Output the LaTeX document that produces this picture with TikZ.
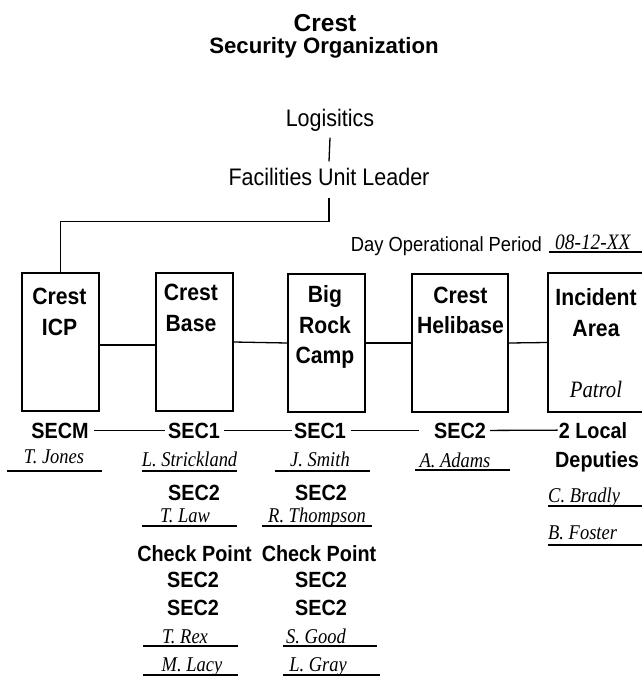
\documentclass[tikz,border=0pt]{standalone}
\usepackage{fontspec}
\newfontfamily\hv[FakeStretch=0.9]{Liberation Sans}
\newfontfamily\hvw{Liberation Sans}
\newfontfamily\nmf[FakeStretch=0.88]{Liberation Serif}
\begin{document}
\begin{tikzpicture}[x=1pt,y=-1pt,
  box/.style={draw, line width=1.6pt, inner sep=0pt},
  ttl/.style={font={\hvw\bfseries\fontsize{24.5}{24.5}\selectfont}, inner sep=0pt, anchor=base},
  sub/.style={font={\hvw\bfseries\fontsize{22.2}{22.2}\selectfont}, inner sep=0pt, anchor=base},
  reg/.style={font={\hv\fontsize{23.9}{23.9}\selectfont}, inner sep=0pt, anchor=base},
  day/.style={font={\hv\fontsize{20.4}{20.4}\selectfont}, inner sep=0pt},
  bx/.style={font={\hv\bfseries\fontsize{23.5}{23.5}\selectfont}, inner sep=0pt, anchor=base},
  lbl/.style={font={\hv\bfseries\fontsize{22}{22}\selectfont}, inner sep=0pt, anchor=base},
  nm/.style={font={\nmf\itshape\fontsize{21}{21}\selectfont}, inner sep=0pt, anchor=base},
  ln/.style={line width=1.3pt},
  ul/.style={line width=1.1pt}]
\useasboundingbox (0,0) rectangle (642,677);

% header
\node[ttl] (t1) at (325,32) {Crest};
\node[sub] (t2) at (324,53) {Security Organization};
\node[reg] (log) at (330,126.5) {Logisitics};
\node[reg] (ful) at (329,185) {Facilities Unit Leader};
\draw[ln] ([yshift=-6]log.south) -- ([yshift=6]ful.north);

\node[day, anchor=base east] (dop) at (542,251) {Day Operational Period};
\node[nm, anchor=base west, font={\nmf\itshape\fontsize{22}{22}\selectfont}] (date) at (555,249) {08-12-XX};
\draw[ul] (549,252) -- (642,252);

% boxes
\node[box, minimum width=77, minimum height=138] (b1) at (60.5,342) {};
\node[box, minimum width=77, minimum height=138] (b2) at (194.5,342) {};
\node[box, minimum width=77, minimum height=138] (b3) at (326.5,343) {};
\node[box, minimum width=96, minimum height=138] (b4) at (460,343) {};
\node[box, minimum width=112, minimum height=139] (b5) at (604,342.5) {};

\draw[ln] ([yshift=-13]ful.south) -- ++(0,23) -| (b1.north);
\draw[ln] ([yshift=-3]b1.east) -- ([yshift=-3]b2.west);
\draw[ln] (b2.east) -- (b3.west);
\draw[ln] (b3.east) -- (b4.west);
\draw[ln] (b4.east) -- (b5.west);

\node[bx] (b1a) at (59.5,304) {Crest};
\node[bx] (b1b) at (59.5,335) {ICP};
\node[bx] (b2a) at (191,300) {Crest};
\node[bx] (b2b) at (191,331) {Base};
\node[bx] (b3a) at (325,302) {Big};
\node[bx] (b3b) at (325,333) {Rock};
\node[bx] (b3c) at (325,363) {Camp};
\node[bx] (b4a) at (460.5,303) {Crest};
\node[bx] (b4b) at (460.5,333) {Helibase};
\node[bx] (b5a) at (596,305) {Incident};
\node[bx] (b5b) at (596,336) {Area};
\node[nm, font={\nmf\itshape\fontsize{23.5}{23.5}\selectfont}] (b5c) at (596,397) {Patrol};

% lower labels
\node[lbl] (secm) at (60,438) {SECM};
\node[lbl] (s1a) at (194,438) {SEC1};
\node[lbl] (s1b) at (320,438) {SEC1};
\node[lbl] (s2h) at (460,438) {SEC2};
\node[lbl] (loc) at (593,438) {2 Local};
\node[lbl] (dep) at (597,467) {Deputies};

\draw[ln] ([xshift=5]secm.east) -- ([xshift=-3]s1a.west);
\draw[ln] ([xshift=4]s1a.east) -- ([xshift=-2]s1b.west);
\draw[ln] ([xshift=5]s1b.east) -- ([xshift=-15]s2h.west);
\draw[ln] ([xshift=4]s2h.east) -- ([xshift=-1]loc.west);

\node[lbl] (s2a) at (194,500) {SEC2};
\node[lbl] (cpa) at (194.5,561) {Check Point};
\node[lbl] (s2a2) at (193,587) {SEC2};
\node[lbl] (s2a3) at (193,615) {SEC2};
\node[lbl] (s2b) at (321,500) {SEC2};
\node[lbl] (cpb) at (319,561) {Check Point};
\node[lbl] (s2b2) at (321,587) {SEC2};
\node[lbl] (s2b3) at (321,615) {SEC2};

% names
\node[nm] (jones) at (54,463) {T. Jones};
\draw[ul] (7,471) -- (102,471);
\node[nm] (strick) at (189.5,466) {L. Strickland};
\draw[ul] (142,471) -- (237,471);
\node[nm] (smith) at (320,466) {J. Smith};
\draw[ul] (275,471) -- (370,471);
\node[nm] (adams) at (455,467) {A. Adams};
\draw[ul] (415,470) -- (510,470);
\node[nm] (law) at (185,522) {T. Law};
\draw[ul] (142,526) -- (237,526);
\node[nm] (thomp) at (317,522) {R. Thompson};
\draw[ul] (262,526) -- (372,526);
\node[nm] (rex) at (185,643) {T. Rex};
\draw[ul] (143,646) -- (238,646);
\node[nm] (lacy) at (192,671) {M. Lacy};
\draw[ul] (143,675) -- (238,675);
\node[nm] (good) at (316,643) {S. Good};
\draw[ul] (283,646) -- (377,646);
\node[nm] (gray) at (318,671) {L. Gray};
\draw[ul] (283,675) -- (380,675);
\node[nm, anchor=base west] (bradly) at (548,502) {C. Bradly};
\draw[ul] (548,506) -- (642,506);
\node[nm, anchor=base west] (foster) at (548,539) {B. Foster};
\draw[ul] (548,545) -- (642,545);
\end{tikzpicture}
\end{document}
